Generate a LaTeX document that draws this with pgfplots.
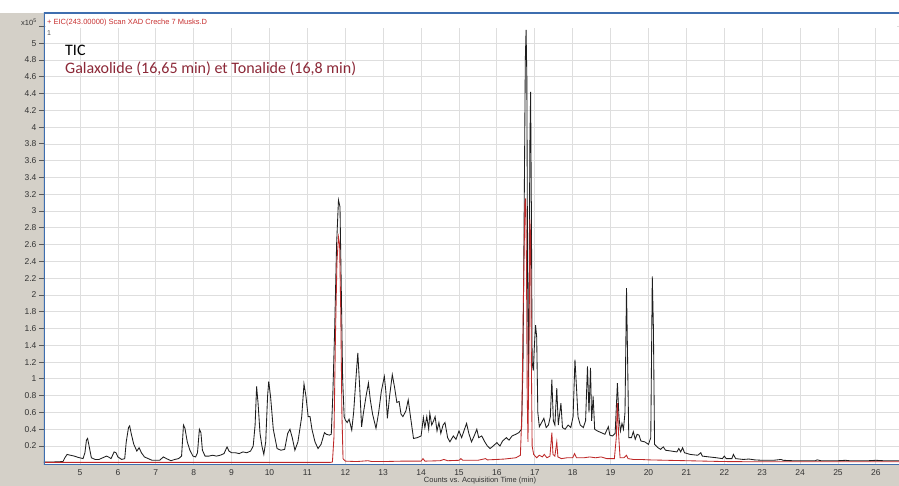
\documentclass[border=0pt]{standalone}
\usepackage{pgfplots}
\pgfplotsset{compat=1.18}
\usepackage{fontspec}
\setmainfont{Liberation Sans}
\newfontfamily\calibri{Carlito}

\definecolor{frame}{RGB}{212,208,200}
\definecolor{axblue}{RGB}{62,110,175}
\definecolor{ticgray}{RGB}{30,30,30}
\definecolor{eicred}{RGB}{190,40,40}
\definecolor{hdrred}{RGB}{200,50,50}
\definecolor{notered}{RGB}{140,40,55}
\definecolor{gridgray}{RGB}{222,222,222}

\begin{document}
\begin{tikzpicture}[x=1pt,y=1pt]
% grey window frame round the plot
\fill[frame] (-44,-21) rectangle (855,452);
\fill[white] (-44,452) rectangle (855,465);
\useasboundingbox (-44,-21) rectangle (855,465);
\begin{axis}[
    at={(0,0)}, anchor=south west,
    scale only axis,
    width=855pt, height=452pt,
    xmin=4.05, xmax=26.61,
    ymin=-0.026, ymax=5.36,
    axis background/.style={fill=white},
    axis line style={draw=none},
    xtick={5,6,...,26},
    ytick={0.2,0.4,0.6,0.8,1,1.2,1.4,1.6,1.8,2,2.2,2.4,2.6,2.8,3,3.2,3.4,3.6,3.8,4,4.2,4.4,4.6,4.8,5},
    extra y ticks={5.2}, extra y tick labels={},
    extra y tick style={tick style={draw=none}},
    grid=major,
    major grid style={draw=gridgray, line width=0.8pt},
    tick align=outside,
    major tick length=5pt,
    xtick pos=bottom, ytick pos=left,
    x tick style={draw=none},
    y tick style={draw=black!65, line width=0.9pt},
    tick label style={font=\fontsize{8.5}{9}\selectfont, text=black!80},
    xticklabel style={yshift=4pt},
    yticklabel style={xshift=1pt},
    /pgf/number format/assume math mode=true,
  ]
  % TIC trace
  \addplot[ticgray, line width=0.85pt] coordinates {
    (4.05,0.01) (4.3,0.01) (4.55,0.015) (4.6,0.06) (4.66,0.10) (4.75,0.09)
    (4.85,0.08) (4.95,0.065) (5.08,0.05) (5.13,0.12) (5.17,0.27) (5.2,0.29)
    (5.24,0.2) (5.3,0.06) (5.4,0.04) (5.5,0.04) (5.6,0.06) (5.7,0.08)
    (5.75,0.07) (5.82,0.05) (5.9,0.13) (5.95,0.12) (6.0,0.07) (6.1,0.04)
    (6.18,0.05) (6.22,0.25) (6.28,0.42) (6.31,0.44) (6.36,0.33) (6.42,0.22)
    (6.5,0.14) (6.56,0.18) (6.62,0.12) (6.7,0.07) (6.8,0.05) (6.9,0.03)
    (7.0,0.03) (7.1,0.03) (7.2,0.07) (7.28,0.05) (7.4,0.025) (7.5,0.04)
    (7.6,0.05) (7.68,0.08) (7.73,0.45) (7.77,0.41) (7.83,0.25) (7.9,0.15)
    (7.98,0.08) (8.05,0.07) (8.1,0.12) (8.15,0.40) (8.19,0.36) (8.23,0.15)
    (8.3,0.08) (8.4,0.08) (8.5,0.09) (8.6,0.08) (8.7,0.09) (8.8,0.11)
    (8.88,0.19) (8.93,0.14) (9.0,0.12) (9.1,0.12) (9.2,0.11) (9.3,0.13)
    (9.4,0.12) (9.5,0.14) (9.57,0.20) (9.62,0.45) (9.66,0.91) (9.7,0.70)
    (9.75,0.35) (9.8,0.20) (9.85,0.10) (9.9,0.25) (9.95,0.80) (9.98,0.97)
    (10.03,0.78) (10.1,0.40) (10.2,0.17) (10.3,0.15) (10.4,0.16) (10.48,0.35)
    (10.54,0.40) (10.6,0.30) (10.67,0.15) (10.75,0.25) (10.85,0.55) (10.91,0.94)
    (10.96,0.80) (11.02,0.55) (11.07,0.55) (11.12,0.40) (11.2,0.25) (11.28,0.17)
    (11.36,0.22) (11.45,0.36) (11.5,0.34) (11.58,0.33) (11.63,0.34) (11.67,0.80)
    (11.72,1.6) (11.77,2.6) (11.82,3.13) (11.86,3.05) (11.89,2.2) (11.93,1.0)
    (11.97,0.55) (12.0,0.51) (12.05,0.48) (12.1,0.52) (12.17,0.39) (12.22,0.60)
    (12.28,1.0) (12.33,1.31) (12.38,0.9) (12.43,0.43) (12.48,0.60) (12.55,0.80)
    (12.61,0.95) (12.66,0.75) (12.72,0.58) (12.81,0.41) (12.88,0.60) (12.95,0.85)
    (13.03,1.03) (13.07,0.85) (13.11,0.53) (13.17,0.80) (13.24,1.05) (13.3,0.90)
    (13.36,0.72) (13.42,0.73) (13.47,0.58) (13.52,0.55) (13.6,0.62) (13.66,0.75)
    (13.72,0.55) (13.8,0.29) (13.9,0.30) (14.0,0.32) (14.06,0.54) (14.1,0.42)
    (14.15,0.55) (14.2,0.40) (14.23,0.59) (14.28,0.45) (14.33,0.50) (14.37,0.55)
    (14.42,0.38) (14.47,0.48) (14.52,0.35) (14.58,0.45) (14.63,0.48) (14.7,0.30)
    (14.76,0.25) (14.85,0.32) (14.92,0.28) (15.0,0.38) (15.07,0.30) (15.13,0.38)
    (15.2,0.47) (15.26,0.35) (15.33,0.25) (15.4,0.32) (15.47,0.40) (15.52,0.30)
    (15.6,0.32) (15.68,0.25) (15.75,0.20) (15.82,0.17) (15.9,0.20) (16.0,0.24)
    (16.08,0.20) (16.15,0.26) (16.25,0.30) (16.32,0.27) (16.4,0.32) (16.5,0.34)
    (16.58,0.36) (16.65,0.40) (16.69,1.2) (16.72,3.0) (16.75,4.8) (16.77,5.16)
    (16.79,4.6) (16.81,2.2) (16.83,1.0) (16.85,2.0) (16.87,3.8) (16.89,4.42)
    (16.91,3.0) (16.93,1.2) (16.96,1.1) (16.99,1.4) (17.02,1.64) (17.05,1.50)
    (17.08,0.60) (17.12,0.43) (17.18,0.48) (17.24,0.53) (17.3,0.42) (17.36,0.45)
    (17.41,0.55) (17.45,0.99) (17.49,0.50) (17.53,0.45) (17.58,0.89) (17.62,0.45)
    (17.69,0.71) (17.73,0.42) (17.8,0.40) (17.88,0.45) (17.95,0.42) (18.01,0.55)
    (18.06,1.23) (18.1,0.90) (18.14,0.55) (18.2,0.45) (18.28,0.42) (18.34,0.50)
    (18.39,1.15) (18.43,0.60) (18.47,1.13) (18.5,0.50) (18.54,0.79) (18.58,0.40)
    (18.65,0.38) (18.75,0.36) (18.85,0.34) (18.94,0.43) (18.98,0.33) (19.05,0.32)
    (19.12,0.35) (19.18,0.95) (19.22,0.55) (19.26,0.38) (19.3,0.47) (19.34,0.40)
    (19.38,0.60) (19.42,2.08) (19.45,1.20) (19.48,0.30) (19.55,0.30) (19.6,0.37)
    (19.65,0.28) (19.7,0.34) (19.75,0.33) (19.8,0.26) (19.9,0.25) (20.0,0.22)
    (20.06,0.30) (20.1,2.22) (20.13,1.6) (20.16,0.22) (20.25,0.18) (20.32,0.16)
    (20.39,0.19) (20.45,0.15) (20.6,0.14) (20.75,0.13) (20.8,0.17) (20.85,0.13)
    (20.9,0.18) (20.95,0.12) (21.1,0.10) (21.3,0.09) (21.38,0.12) (21.42,0.08)
    (21.6,0.07) (21.8,0.06) (21.95,0.05) (22.0,0.08) (22.05,0.05) (22.2,0.05)
    (22.24,0.10) (22.3,0.05) (22.5,0.04) (22.65,0.045) (22.8,0.035) (23.0,0.03)
    (23.3,0.03) (23.5,0.04) (23.55,0.03) (23.8,0.025) (24.0,0.025) (24.4,0.025)
    (24.45,0.035) (24.55,0.025) (24.8,0.025) (25.0,0.025) (25.2,0.03) (25.3,0.025)
    (25.8,0.025) (26.0,0.03) (26.2,0.025) (26.61,0.025)
  };
  % EIC 243 trace
  \addplot[eicred, line width=0.85pt] coordinates {
    (4.05,0.005) (11.6,0.005) (11.66,0.01) (11.7,0.3) (11.74,1.5) (11.78,2.4)
    (11.82,2.69) (11.85,2.6) (11.88,1.8) (11.91,0.6) (11.94,0.05) (12.0,0.02)
    (12.3,0.015) (12.6,0.025) (12.7,0.015) (13.0,0.015) (13.5,0.02) (14.0,0.02)
    (14.05,0.05) (14.1,0.02) (14.5,0.025) (14.6,0.04) (14.7,0.025) (15.0,0.03)
    (15.05,0.05) (15.1,0.03) (15.5,0.03) (15.7,0.05) (15.75,0.035) (16.0,0.04)
    (16.2,0.045) (16.5,0.06) (16.62,0.09) (16.66,0.6) (16.7,2.0) (16.74,3.1)
    (16.76,3.15) (16.78,2.4) (16.8,0.8) (16.82,0.25) (16.85,1.5) (16.87,2.9)
    (16.89,2.7) (16.91,1.2) (16.93,0.2) (16.97,0.1) (17.05,0.06) (17.12,0.09)
    (17.2,0.07) (17.25,0.10) (17.32,0.06) (17.4,0.08) (17.45,0.36) (17.48,0.1)
    (17.53,0.08) (17.58,0.25) (17.61,0.07) (17.7,0.05) (17.85,0.06) (18.0,0.06)
    (18.05,0.11) (18.1,0.06) (18.3,0.06) (18.45,0.07) (18.6,0.06) (18.75,0.07)
    (18.9,0.05) (19.1,0.05) (19.15,0.3) (19.18,0.71) (19.21,0.35) (19.25,0.06)
    (19.35,0.06) (19.42,0.09) (19.46,0.05) (19.6,0.04) (19.8,0.04) (20.0,0.035)
    (20.5,0.03) (21.0,0.025) (21.5,0.02) (22.0,0.015) (23.0,0.012) (26.61,0.012)
  };
  % window borders
  \draw[axblue, line width=2pt] (rel axis cs:0,0) -- (rel axis cs:0,1) -- (rel axis cs:1,1);
  \draw[axblue, line width=2pt] (rel axis cs:0,0) -- (rel axis cs:1,0);
\end{axis}
% header strip of the trace window
\fill[white] (1.5,437) rectangle (853,450.5);
\node[anchor=west, inner sep=0pt, text=hdrred, font=\fontsize{7.5}{8}\selectfont]
  at (3,442.5) {+ EIC(243.00000) Scan XAD Creche 7 Musks.D};
\node[anchor=west, inner sep=0pt, text=black!70, font=\fontsize{7}{8}\selectfont]
  at (3,432) {1};
\node[anchor=center, inner sep=0pt, text=black!80, font=\fontsize{7.5}{8}\selectfont]
  at (-15,443) {x10\textsuperscript{5}};
\node[anchor=west, inner sep=0pt, font=\calibri\fontsize{16}{18}\selectfont]
  at (21,415) {TIC};
\node[anchor=west, inner sep=0pt, text=notered, font=\calibri\fontsize{16}{18}\selectfont]
  at (21,396) {Galaxolide (16,65 min) et Tonalide (16,8 min)};
\node[anchor=center, inner sep=0pt, text=black!80, font=\fontsize{7.5}{8}\selectfont]
  at (436,-16) {Counts vs. Acquisition Time (min)};
\end{tikzpicture}
\end{document}
